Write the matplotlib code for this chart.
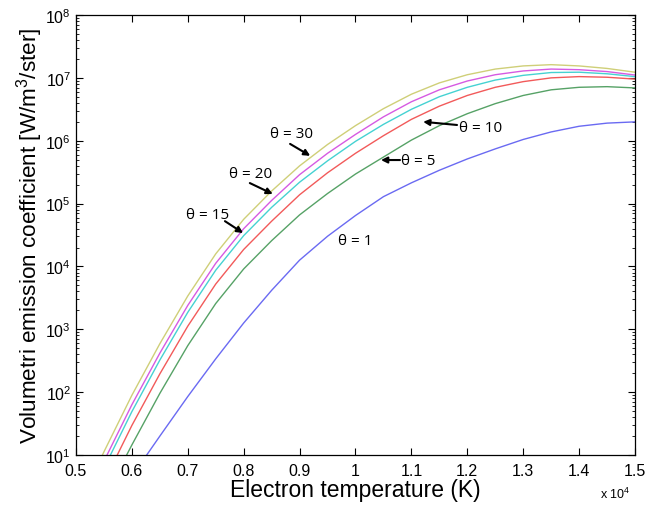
import numpy as np
import matplotlib
matplotlib.use("Agg")
import matplotlib.pyplot as plt

plt.rcParams['font.family'] = ['Liberation Sans', 'DejaVu Sans']
plt.rcParams['mathtext.fontset'] = 'custom'
plt.rcParams['mathtext.rm'] = 'Liberation Sans'

# electron temperature in units of 1e4 K
temp = [0.50, 0.55, 0.60, 0.65, 0.70, 0.75, 0.80, 0.85, 0.90, 0.95, 1.00,
        1.05, 1.10, 1.15, 1.20, 1.25, 1.30, 1.35, 1.40, 1.45, 1.50]

# log10 of emission coefficient, one list per theta
log_theta1 = [-0.7, 0.0, 0.66, 1.30, 1.93, 2.53, 3.10, 3.62, 4.10, 4.48, 4.81,
              5.11, 5.33, 5.53, 5.71, 5.87, 6.02, 6.14, 6.23, 6.28, 6.30]
log_theta5 = [-0.65, 0.30, 1.16, 1.98, 2.74, 3.41, 3.96, 4.41, 4.82, 5.16, 5.47,
              5.74, 6.01, 6.24, 6.43, 6.59, 6.72, 6.81, 6.85, 6.86, 6.84]
log_theta10 = [-0.38, 0.57, 1.47, 2.29, 3.05, 3.72, 4.27, 4.72, 5.14, 5.49, 5.80,
               6.08, 6.34, 6.55, 6.72, 6.85, 6.94, 7.00, 7.02, 7.01, 6.98]
log_theta15 = [-0.16, 0.79, 1.69, 2.51, 3.27, 3.94, 4.49, 4.94, 5.34, 5.68, 5.99,
               6.26, 6.50, 6.70, 6.85, 6.965, 7.04, 7.085, 7.09, 7.065, 7.02]
log_theta20 = [-0.05, 0.90, 1.80, 2.62, 3.38, 4.05, 4.60, 5.05, 5.46, 5.80, 6.10,
               6.38, 6.62, 6.81, 6.95, 7.05, 7.11, 7.14, 7.13, 7.10, 7.045]
log_theta30 = [0.10, 1.05, 1.95, 2.77, 3.53, 4.20, 4.75, 5.20, 5.60, 5.94, 6.24,
               6.51, 6.74, 6.92, 7.05, 7.14, 7.19, 7.21, 7.19, 7.15, 7.09]

series = [log_theta1, log_theta5, log_theta10, log_theta15, log_theta20, log_theta30]
colors = ['#6a6af2', '#56a266', '#f25a5a', '#45d2d2', '#d65ae2', '#cfcf78']

fig = plt.figure(figsize=(6.46, 5.10), dpi=100)
ax = fig.add_axes([0.1176, 0.1059, 0.8654, 0.8627])

t = np.array(temp)
for vals, c in zip(series, colors):
    ax.plot(t, 10 ** np.array(vals), color=c, lw=1.0)

ax.set_yscale('log')
ax.set_xlim(0.5, 1.5)
ax.set_ylim(1e1, 1e8)
ax.set_xticks(np.arange(0.5, 1.51, 0.1))
ax.set_xticklabels(['0.5', '0.6', '0.7', '0.8', '0.9', '1',
                    '1.1', '1.2', '1.3', '1.4', '1.5'])
ax.tick_params(which='both', direction='in', top=True, right=True, labelsize=11.5)
ax.tick_params(which='major', length=5, width=0.8)
ax.tick_params(which='minor', length=2.5, width=0.6)
ax.tick_params(axis='x', pad=6)
for s in ax.spines.values():
    s.set_linewidth(0.9)

ax.set_xlabel('Electron temperature (K)', fontsize=16.5, labelpad=0)
ax.set_ylabel('Volumetri emission coefficient [W/m$^3$/ster]', fontsize=16.2, labelpad=0)
fig.text(0.952, 0.031, r'x 10$^4$', fontsize=9, ha='center', va='center')

# labels, arrows drawn from a tail point to the curve
ann_font = ['Open Sans', 'DejaVu Sans']
arrow = dict(arrowstyle='-|>', color='black', lw=1.5, mutation_scale=9,
             shrinkA=0, shrinkB=0)
labels = [
    ('θ = 30', (0.886, 1.3e6)),
    ('θ = 20', (0.813, 3.06e5)),
    ('θ = 15', (0.736, 6.6e4)),
    ('θ = 10', (1.2245, 1.65e6)),
    ('θ = 5', (1.112, 4.93e5)),
    ('θ = 1', (0.999, 2.63e4)),
]
arrows = [
    ((0.883, 8.9e5), (0.919, 5.75e5)),
    ((0.811, 2.12e5), (0.852, 1.42e5)),
    ((0.7665, 5.25e4), (0.799, 3.4e4)),
    ((1.1816, 1.78e6), (1.121, 2.0e6)),
    ((1.0796, 4.93e5), (1.0456, 4.93e5)),
]
for txt, pos in labels:
    ax.text(pos[0], pos[1], txt, ha='center', va='center', fontsize=11, family=ann_font)
for tail, tip in arrows:
    ax.annotate('', xy=tip, xytext=tail, arrowprops=arrow)

fig.savefig('out.png', dpi=100)
